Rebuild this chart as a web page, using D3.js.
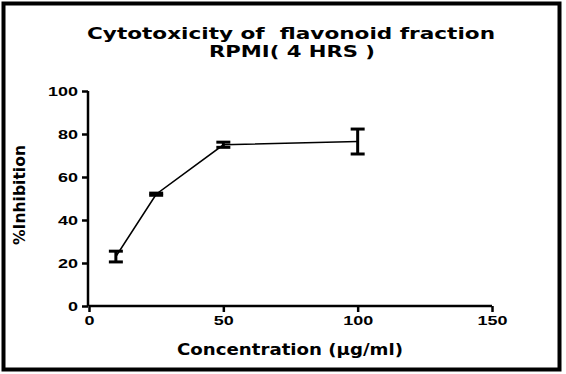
<!DOCTYPE html>
<html>
<head>
<meta charset="utf-8">
<script src="https://cdn.jsdelivr.net/npm/d3@7.9.0/dist/d3.min.js"></script>
<style>
  body { margin: 0; background: #fff; }
  text { font-family: "DejaVu Sans", Verdana, sans-serif; font-weight: bold; fill: #000; }
</style>
</head>
<body>
<svg id="chart" width="566" height="374"></svg>
<script>
// data
const concentrations = [10, 25, 50, 100];
const inhibition = [23, 52, 75, 76.5];
const errors = [2.5, 0.5, 1.2, 5.8];
const xTicks = [0, 50, 100, 150];
const yTicks = [0, 20, 40, 60, 80, 100];

const svg = d3.select('#chart');

// outer frame
svg.append('rect')
  .attr('x', 3.5).attr('y', 3.5)
  .attr('width', 556).attr('height', 366)
  .attr('fill', 'none').attr('stroke', '#000').attr('stroke-width', 4);

let x = d3.scaleLinear().domain([0, 150]).range([89, 492]);
let y = d3.scaleLinear().domain([0, 100]).range([306, 91]);

// title
svg.append('text').attr('x', 291).attr('y', 38.5)
  .attr('text-anchor', 'middle').style('font-size', '16.5px')
  .attr('xml:space', 'preserve')
  .attr('textLength', 408).attr('lengthAdjust', 'spacingAndGlyphs')
  .text('Cytotoxicity of  flavonoid fraction');
svg.append('text').attr('x', 292).attr('y', 57)
  .attr('text-anchor', 'middle').style('font-size', '16.5px')
  .attr('xml:space', 'preserve')
  .attr('textLength', 166).attr('lengthAdjust', 'spacingAndGlyphs')
  .text('RPMI( 4 HRS )');

// axes
let xAxis = svg.append('g')
  .attr('transform', 'translate(0,306)')
  .call(d3.axisBottom(x).tickValues(xTicks).tickSize(6).tickPadding(4));
let yAxis = svg.append('g')
  .attr('transform', 'translate(88,0)')
  .call(d3.axisLeft(y).tickValues(yTicks).tickSize(6).tickPadding(4));

[xAxis, yAxis].forEach(g => {
  g.select('.domain').attr('stroke', '#000').attr('stroke-width', 2.5);
  g.selectAll('.tick line').attr('stroke', '#000').attr('stroke-width', 2.5);
  g.selectAll('.tick text')
    .style('font-family', 'Arial, "Liberation Sans", sans-serif')
    .style('font-weight', 'bold').style('font-size', '12.5px').attr('fill', '#000')
    .attr('textLength', function() { return this.textContent.length * 10; })
    .attr('lengthAdjust', 'spacingAndGlyphs');
});
// remove the outer tick ends of the domain path
xAxis.select('.domain').attr('d', `M${x(0)},0H${x(150)}`);
yAxis.select('.domain').attr('d', `M0,${y(0)}V${y(100)}`);

// axis titles
svg.append('text').attr('x', 290).attr('y', 355)
  .attr('text-anchor', 'middle').style('font-size', '16px')
  .attr('textLength', 226).attr('lengthAdjust', 'spacingAndGlyphs')
  .text('Concentration (\u03bcg/ml)');
svg.append('text')
  .attr('transform', 'translate(25,195) rotate(-90)')
  .attr('text-anchor', 'middle').style('font-size', '16px')
  .attr('textLength', 100).attr('lengthAdjust', 'spacingAndGlyphs')
  .text('%Inhibition');

// data line
let pts = concentrations.map((c, i) => [c, inhibition[i]]);
svg.append('path')
  .attr('d', d3.line().x(d => x(d[0])).y(d => y(d[1]))(pts))
  .attr('fill', 'none').attr('stroke', '#000').attr('stroke-width', 1.6);

// error bars
let eb = svg.append('g').attr('stroke', '#000').attr('stroke-width', 3);
concentrations.forEach((c, i) => {
  let cx = x(c);
  let top = y(inhibition[i] + errors[i]);
  let bot = y(inhibition[i] - errors[i]);
  eb.append('line').attr('x1', cx).attr('x2', cx).attr('y1', top).attr('y2', bot);
  eb.append('line').attr('x1', cx - 7).attr('x2', cx + 7).attr('y1', top).attr('y2', top);
  eb.append('line').attr('x1', cx - 7).attr('x2', cx + 7).attr('y1', bot).attr('y2', bot);
});
</script>
</body>
</html>
